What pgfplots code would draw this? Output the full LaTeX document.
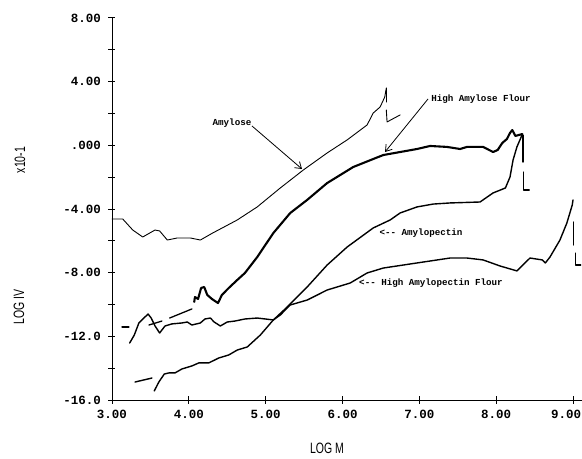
\documentclass[border=0pt]{standalone}
\usepackage{fontspec}
\usepackage{pgfplots}
\pgfplotsset{compat=1.18}
\usetikzlibrary{arrows.meta}
\newfontfamily\monofont{Liberation Mono}
\newfontfamily\narrowfont[FakeStretch=0.7]{Liberation Sans}
\newcommand{\tickfont}{\monofont\bfseries\fontsize{12.5bp}{14bp}\selectfont}
\newcommand{\annfont}{\monofont\bfseries\fontsize{9.2bp}{11bp}\selectfont}
\newcommand{\labfont}{\narrowfont\fontsize{15bp}{17bp}\selectfont}
\begin{document}
\begin{tikzpicture}
\begin{axis}[
  scale only axis, width=470bp, height=382bp,
  xmin=3, xmax=9.117, ymin=-16, ymax=8,
  axis lines=left, axis line style={-, line width=1pt},
  xtick={3,4,5,6,7,8,9}, xticklabels={3.00,4.00,5.00,6.00,7.00,8.00,\hspace*{-14bp}9.00},
  ytick={-16,-12,-8,-4,0,4,8}, yticklabels={-16.0,-12.0,-8.00,-4.00,.000,4.00,8.00},
  minor ytick={-14,-10,-6,-2,2,6},
  tick align=center, major tick length=7bp, minor tick length=7bp,
  tick style={line width=1pt, black},
  x tick label style={font=\tickfont, yshift=-3bp},
  y tick label style={font=\tickfont, xshift=-4bp},
  clip=false,
  every axis plot/.append style={black, line join=round, line cap=round},
]
% Amylose
\addplot[line width=0.9pt] coordinates {
(3.00,-4.63) (3.14,-4.63) (3.27,-5.32) (3.40,-5.76) (3.56,-5.32) (3.62,-5.38)
(3.72,-5.95) (3.85,-5.82) (4.02,-5.82) (4.15,-5.95) (4.31,-5.51) (4.63,-4.69)
(4.89,-3.87) (5.19,-2.68) (5.49,-1.55) (5.80,-0.48) (6.06,0.34) (6.32,1.28)
(6.40,2.03) (6.49,2.41) (6.55,3.04) (6.57,3.60)};
\addplot[line width=0.9pt] coordinates {(6.57,3.60) (6.57,2.72)};
\addplot[line width=0.9pt] coordinates {(6.57,2.22) (6.58,1.47) (6.75,1.91)};
% High Amylose Flour
\addplot[line width=1.3pt] coordinates {(3.13,-11.41) (3.22,-11.41)};
\addplot[line width=1.3pt] coordinates {(3.48,-11.29) (3.65,-11.04)};
\addplot[line width=1.3pt] coordinates {(3.75,-10.85) (4.04,-10.28)};
\addplot[line width=2.1pt] coordinates {
(4.07,-9.84) (4.08,-9.53) (4.12,-9.65) (4.16,-8.96) (4.20,-8.90) (4.24,-9.40)
(4.30,-9.65) (4.38,-9.91) (4.43,-9.40) (4.52,-8.96) (4.63,-8.46) (4.73,-8.02)
(4.89,-7.02) (5.10,-5.51) (5.32,-4.25) (5.54,-3.43) (5.80,-2.37) (6.14,-1.36)
(6.53,-0.61) (6.97,-0.23) (7.14,-0.04) (7.36,-0.10) (7.53,-0.23) (7.62,-0.10)
(7.83,-0.10) (7.96,-0.42) (8.02,-0.29) (8.08,0.15) (8.14,0.40) (8.18,0.78)
(8.21,0.96) (8.25,0.59) (8.34,0.71)};
\addplot[line width=1.3pt] coordinates {(8.35,0.65) (8.35,-1.05)};
\addplot[line width=1.3pt] coordinates {(8.36,-1.68) (8.36,-2.81) (8.43,-2.81)};
% Amylopectin
\addplot[line width=1.4pt] coordinates {(3.30,-14.87) (3.52,-14.62)};
\addplot[line width=1.4pt] coordinates {
(3.55,-15.43) (3.61,-14.87) (3.68,-14.37) (3.74,-14.30) (3.82,-14.30) (3.91,-14.05)
(4.04,-13.86) (4.13,-13.67) (4.26,-13.67) (4.39,-13.36) (4.52,-13.17) (4.63,-12.86)
(4.76,-12.67) (4.93,-11.92) (5.10,-10.97) (5.28,-10.16) (5.54,-8.90) (5.80,-7.52)
(6.06,-6.39) (6.40,-5.19) (6.62,-4.69) (6.75,-4.25) (6.97,-3.87) (7.18,-3.69)
(7.40,-3.62) (7.79,-3.56) (7.96,-2.99) (8.12,-2.68) (8.18,-1.99) (8.22,-0.92)
(8.27,-0.10) (8.32,0.46) (8.34,0.71)};
% High Amylopectin Flour
\addplot[line width=1.4pt] coordinates {
(3.23,-12.42) (3.29,-11.92) (3.35,-11.16) (3.39,-10.97) (3.43,-10.78) (3.47,-10.60)
(3.51,-10.85) (3.56,-11.35) (3.62,-11.79) (3.69,-11.35) (3.78,-11.22) (3.91,-11.16)
(3.98,-11.10) (4.04,-11.29) (4.15,-11.16) (4.21,-10.91) (4.28,-10.85) (4.33,-11.10)
(4.41,-11.35) (4.50,-11.10) (4.60,-11.04) (4.73,-10.91) (4.89,-10.85) (5.10,-10.97)
(5.19,-10.66) (5.32,-10.03) (5.54,-9.72) (5.80,-9.09) (6.10,-8.65) (6.32,-8.02)
(6.53,-7.71) (6.97,-7.39) (7.40,-7.08) (7.62,-7.08) (7.83,-7.20) (8.05,-7.58)
(8.27,-7.89) (8.44,-7.08) (8.60,-7.20) (8.64,-7.39) (8.70,-7.02) (8.83,-5.95)
(8.92,-4.88) (8.99,-3.75) (9.00,-3.43)};
\addplot[line width=1.3pt] coordinates {(9.01,-4.82) (9.01,-6.26)};
\addplot[line width=1.3pt] coordinates {(9.03,-6.77) (9.03,-7.52) (9.10,-7.52)};
\end{axis}
% axis labels
\node[font=\labfont, rotate=90] at (-92bp,240bp) {x10-1};
\node[font=\labfont, rotate=90] at (-93bp,93bp) {LOG IV};
\node[font=\labfont] at (215bp,-48bp) {LOG M};
% annotations
\node[font=\annfont] at (120bp,277bp) {Amylose};
\draw[line width=0.8pt, -{Straight Barb[length=6bp,width=8bp]}] (140bp,274bp) -- (190bp,231bp);
\node[font=\annfont] at (369bp,301bp) {High Amylose Flour};
\draw[line width=0.8pt, -{Straight Barb[length=6bp,width=8bp]}] (316bp,301bp) -- (273bp,248bp);
\node[font=\annfont] at (309bp,167bp) {<-{}- Amylopectin};
\node[font=\annfont] at (319bp,117bp) {<-{}- High Amylopectin Flour};
\pgfresetboundingbox
\path[use as bounding box] (-112bp,-59bp) rectangle (470bp,400bp);
\end{tikzpicture}
\end{document}
